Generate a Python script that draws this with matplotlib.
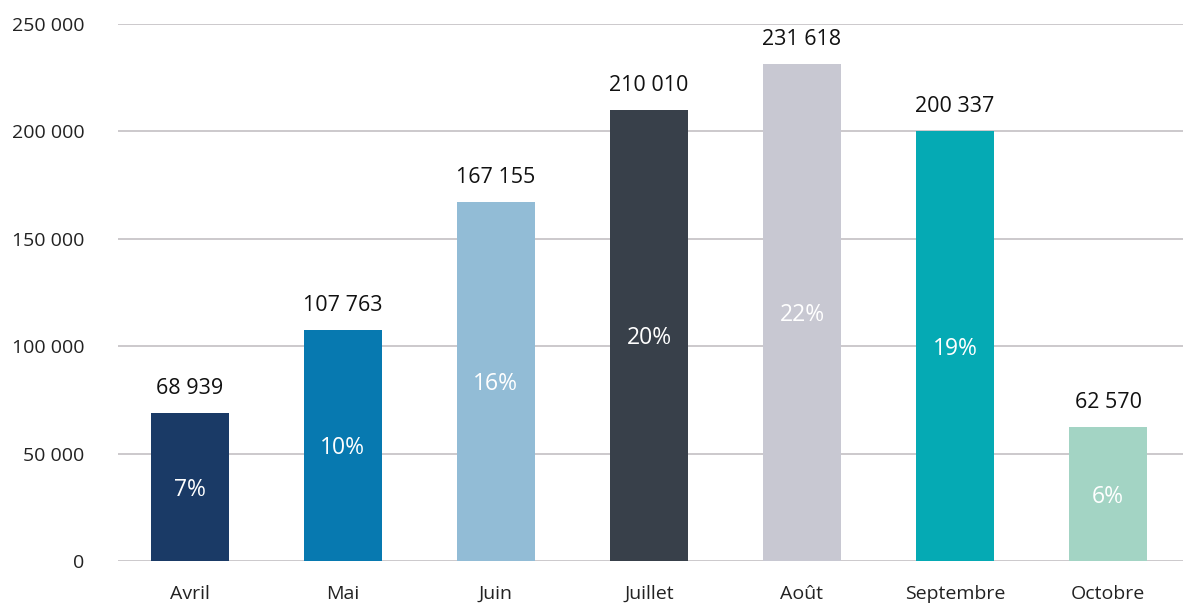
import matplotlib.pyplot as plt

mois = ['Avril', 'Mai', 'Juin', 'Juillet', 'Août', 'Septembre', 'Octobre']
valeurs = [68939, 107763, 167155, 210010, 231618, 200337, 62570]
parts = ['7%', '10%', '16%', '20%', '22%', '19%', '6%']
couleurs = ['#1a3a66', '#0779b0', '#92bcd6', '#38404a', '#c8c8d2', '#05aab4', '#a3d4c4']

plt.rcParams['font.family'] = ['Open Sans', 'DejaVu Sans']

fig = plt.figure(figsize=(11.83, 6.05), dpi=100)
ax = fig.add_axes([0.0997, 0.0727, 0.9003, 0.8876])

x = range(len(mois))
barres = ax.bar(x, valeurs, width=0.51, color=couleurs, zorder=3)

def fmt(v):
    return f'{v:,}'.replace(',', ' ')

for b, v, p in zip(barres, valeurs, parts):
    cx = b.get_x() + b.get_width() / 2
    ax.annotate(fmt(v), (cx, v), xytext=(0, 10), textcoords='offset points',
                ha='center', va='bottom', fontsize=15.5, color='#111111')
    ax.annotate(p, (cx, v / 2), xytext=(0, -2), textcoords='offset points',
                ha='center', va='center', fontsize=16.5, color='white')

ax.set_xlim(-0.47, 6.49)
ax.set_ylim(0, 250000)
ax.set_yticks(range(0, 250001, 50000))
ax.set_yticklabels([fmt(t) for t in range(0, 250001, 50000)])
ax.set_xticks(list(x))
ax.set_xticklabels(mois)
ax.grid(axis='y', color='#c4c0c4', linewidth=1.2, zorder=0)
for s in ax.spines.values():
    s.set_visible(False)
ax.tick_params(length=0, labelsize=14, colors='#222222')
ax.tick_params(axis='y', pad=24)
ax.tick_params(axis='x', pad=17)
for lbl in ax.get_yticklabels():
    lbl.set_horizontalalignment('right')

fig.savefig('out.png', dpi=100)
